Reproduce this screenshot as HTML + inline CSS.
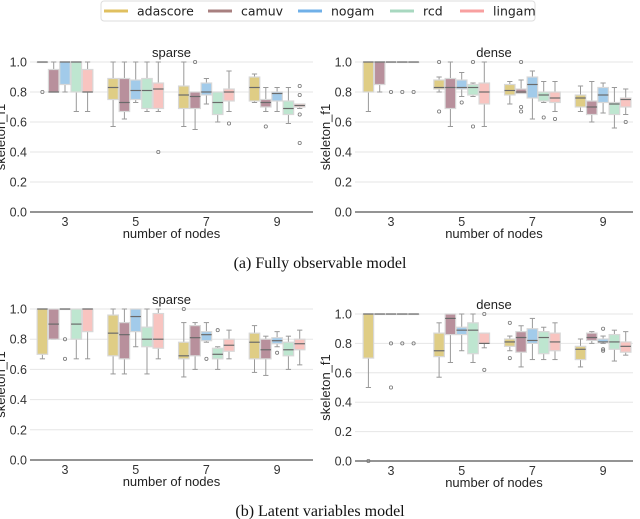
<!DOCTYPE html>
<html><head><meta charset="utf-8"><style>
body{margin:0;background:#fff;}
svg{display:block;font-family:"Liberation Sans",sans-serif;}
</style></head><body>
<svg id="chart" width="640" height="519" viewBox="0 0 640 519">
<g id="legend">
<rect x="101" y="1" width="434" height="20" rx="3" fill="#fff" stroke="#ddd"/>
</g>
<text x="320" y="268" text-anchor="middle" font-family="Liberation Serif,serif" font-size="16" fill="#111">(a) Fully observable model</text>
<text x="320" y="516" text-anchor="middle" font-family="Liberation Serif,serif" font-size="16" fill="#111">(b) Latent variables model</text>
</svg>
<script>
const categories = ["3","5","7","9"];
const algorithms = ["adascore","camuv","nogam","rcd","lingam"];
const yTicks = [0,0.2,0.4,0.6,0.8,1.0];
const lineColors = ["#e0c060","#a88080","#70b0e8","#a8d8c0","#f8a0a0"];
const fillColors = ["#dfcd85","#b8909c","#a2cbea","#bee6d0","#f8c4c0"];
// each entry: [whiskerLo, q1, median, q3, whiskerHi] per category
const sparseA_stats = [
 [[1,1,1,1,1],[0.57,0.75,0.83,0.89,1],[0.57,0.69,0.78,0.84,1],[0.73,0.74,0.83,0.9,0.92]],
 [[0.8,0.8,0.8,0.95,1],[0.62,0.67,0.73,0.89,1],[0.55,0.69,0.77,0.8,0.8],[0.67,0.7,0.73,0.75,0.83]],
 [[0.8,0.85,1,1,1],[0.73,0.75,0.81,0.88,1],[0.72,0.78,0.8,0.86,0.89],[0.67,0.74,0.79,0.8,0.83]],
 [[0.67,0.8,1,1,1],[0.67,0.69,0.81,0.89,1],[0.6,0.65,0.73,0.8,0.8],[0.59,0.65,0.69,0.74,0.83]],
 [[0.67,0.8,0.8,0.95,1],[0.67,0.69,0.82,0.86,1],[0.67,0.74,0.8,0.82,0.94],[0.69,0.7,0.71,0.72,0.72]]];
const sparseA_out = [[[0.8],[],[],[]],[[],[],[1.0],[0.57]],[[],[],[],[]],[[],[],[],[]],[[],[0.4],[0.59],[0.84,0.78,0.65,0.46]]];
const denseA_stats = [
 [[0.67,0.8,1,1,1],[0.8,0.82,0.83,0.88,0.9],[0.72,0.78,0.81,0.85,0.87],[0.67,0.7,0.76,0.78,0.84]],
 [[0.8,0.85,1,1,1],[0.57,0.69,0.83,0.89,1],[0.79,0.79,0.8,0.82,0.88],[0.6,0.65,0.7,0.74,0.87]],
 [[1,1,1,1,1],[0.77,0.82,0.83,0.88,0.93],[0.62,0.76,0.85,0.9,0.94],[0.66,0.73,0.78,0.83,0.86]],
 [[1,1,1,1,1],[0.77,0.78,0.83,0.85,0.86],[0.73,0.74,0.78,0.8,0.87],[0.56,0.65,0.72,0.73,0.83]],
 [[1,1,1,1,1],[0.57,0.72,0.8,0.86,1],[0.67,0.73,0.76,0.8,0.87],[0.65,0.7,0.75,0.76,0.82]]];
const denseA_out = [[[],[1.0,0.67],[],[]],[[],[],[1.0,0.7,0.67],[]],[[0.8],[0.73],[],[]],[[0.8],[1.0,0.57],[0.63],[]],[[0.8],[],[0.62],[0.6]]];
const sparseB_stats = [
 [[0.67,0.7,1,1,1],[0.57,0.69,0.84,0.96,1],[0.55,0.67,0.69,0.78,0.91],[0.58,0.67,0.78,0.84,0.89]],
 [[0.8,0.8,0.9,1,1],[0.57,0.67,0.83,0.91,1],[0.6,0.69,0.81,0.89,0.91],[0.56,0.67,0.73,0.8,0.82]],
 [[1,1,1,1,1],[0.75,0.85,0.95,1,1],[0.78,0.79,0.83,0.85,0.91],[0.75,0.77,0.79,0.81,0.85]],
 [[0.67,0.8,0.9,1,1],[0.57,0.75,0.8,0.88,1],[0.6,0.67,0.7,0.74,0.75],[0.6,0.69,0.73,0.78,0.82]],
 [[0.67,0.85,1,1,1],[0.67,0.74,0.8,0.97,1],[0.67,0.72,0.76,0.8,0.86],[0.63,0.73,0.77,0.8,0.86]]];
const sparseB_out = [[[],[],[1.0],[]],[[],[],[],[]],[[0.8,0.67],[],[0.67],[0.71]],[[],[],[0.86],[]],[[],[],[],[]]];
const denseB_stats = [
 [[0.5,0.7,1,1,1],[0.57,0.71,0.75,0.87,0.94],[0.75,0.78,0.81,0.83,0.85],[0.64,0.69,0.76,0.78,0.83]],
 [[1,1,1,1,1],[0.67,0.86,0.97,1,1],[0.64,0.74,0.84,0.88,0.92],[0.8,0.82,0.84,0.87,0.88]],
 [[1,1,1,1,1],[0.75,0.86,0.89,0.91,1],[0.69,0.8,0.82,0.9,0.97],[0.8,0.81,0.81,0.83,0.85]],
 [[1,1,1,1,1],[0.67,0.73,0.89,0.94,1],[0.69,0.73,0.84,0.88,0.91],[0.68,0.76,0.81,0.86,0.89]],
 [[1,1,1,1,1],[0.77,0.8,0.8,0.87,0.87],[0.69,0.75,0.81,0.87,0.94],[0.72,0.74,0.78,0.81,0.88]]];
const denseB_out = [[[0.0],[],[0.94,0.7],[]],[[],[],[],[]],[[0.8,0.5],[],[],[0.9,0.76,0.75]],[[0.8],[],[],[]],[[0.8],[1.0,0.62],[],[]]];

const NS="http://www.w3.org/2000/svg";
const svg=document.getElementById('chart');
function mk(tag,attrs,parent){const e=document.createElementNS(NS,tag);for(const k in attrs)e.setAttribute(k,attrs[k]);(parent||svg).appendChild(e);return e;}

const legX=[104,208,298,390,460];
algorithms.forEach((a,i)=>{
  const g=mk('g',{},document.getElementById('legend'));
  
  
  mk('line',{x1:legX[i],x2:legX[i]+24,y1:11,y2:11,stroke:lineColors[i],'stroke-width':3},g);
  const t=mk('text',{x:legX[i]+33,y:15.5,'font-family':'DejaVu Sans,sans-serif','font-size':12.5,fill:'#222'},g);t.textContent=a;
});

function panel(p){
  const g=mk('g',{});
  
  
  const y=v=>p.y0-(p.y0-p.y1)*v;
  const cx=i=>p.x0+p.off+i*70.7;
  yTicks.forEach(t=>{
    if(t>0){const gl=mk('line',{x1:p.x0,x2:p.x1,y1:y(t),y2:y(t),stroke:'#e6e6e6','stroke-width':1},g);
    }
    const tl=mk('text',{x:p.x0-3,y:y(t)+4.5,'text-anchor':'end','font-size':12.5,fill:'#333'},g);
    
    tl.textContent=t.toFixed(1);
  });
  const ax=mk('line',{x1:p.x0,x2:p.x1,y1:p.y0,y2:p.y0,stroke:'#555','stroke-width':1.2},g);
  
  categories.forEach((c,i)=>{
    const tl=mk('text',{x:cx(i),y:p.y0+14,'text-anchor':'middle','font-size':12.5,fill:'#333'},g);
    
    tl.textContent=c;
  });
  const xt=mk('text',{x:(p.x0+p.x1)/2,y:p.y0+26,'text-anchor':'middle','font-size':13,fill:'#222'},g);
  
  xt.textContent='number of nodes';
  const yt=mk('text',{x:0,y:0,'text-anchor':'middle','font-size':13,fill:'#222',transform:`translate(${p.x0-25},${(p.y0+p.y1)/2}) rotate(-90)`},g);
  
  yt.textContent='skeleton_f1';
  const tt=mk('text',{x:(p.x0+p.x1)/2,y:p.y1-5,'text-anchor':'middle','font-size':13,fill:'#222'},g);
  
  tt.textContent=p.title;
  const bw=10.5, step=11.3;
  algorithms.forEach((a,ai)=>{
    categories.forEach((c,ci)=>{
      const s=p.stats[ai][ci];
      const x=cx(ci)+(ai-2)*step;
      const bg=mk('g',{},g);
      
      
      mk('line',{x1:x,x2:x,y1:y(s[0]),y2:y(s[4]),stroke:'#999','stroke-width':1},bg);
      mk('line',{x1:x-bw*0.25,x2:x+bw*0.25,y1:y(s[0]),y2:y(s[0]),stroke:'#999','stroke-width':1},bg);
      mk('line',{x1:x-bw*0.25,x2:x+bw*0.25,y1:y(s[4]),y2:y(s[4]),stroke:'#999','stroke-width':1},bg);
      mk('rect',{x:x-bw/2,y:y(s[3]),width:bw,height:Math.max(0.5,y(s[1])-y(s[3])),fill:fillColors[ai],stroke:'#d8d8d8','stroke-width':1.2},bg);
      mk('line',{x1:x-bw/2,x2:x+bw/2,y1:y(s[2]),y2:y(s[2]),stroke:'#6a6a6a','stroke-width':1.2},bg);
      p.out[ai][ci].forEach(v=>{
        const o=mk('circle',{cx:x,cy:y(v),r:1.6,fill:'none',stroke:'#777','stroke-width':0.8},bg);
        
      });
    });
  });
}
panel({name:'panel-a-sparse',title:'sparse',x0:30,x1:313,off:35,y1:62,y0:212,stats:sparseA_stats,out:sparseA_out});
panel({name:'panel-a-dense',title:'dense',x0:355,x1:633,off:36,y1:62,y0:212,stats:denseA_stats,out:denseA_out});
panel({name:'panel-b-sparse',title:'sparse',x0:30,x1:313,off:35,y1:309,y0:460,stats:sparseB_stats,out:sparseB_out});
panel({name:'panel-b-dense',title:'dense',x0:355,x1:633,off:36,y1:314,y0:461,stats:denseB_stats,out:denseB_out});
</script>
</body></html>
